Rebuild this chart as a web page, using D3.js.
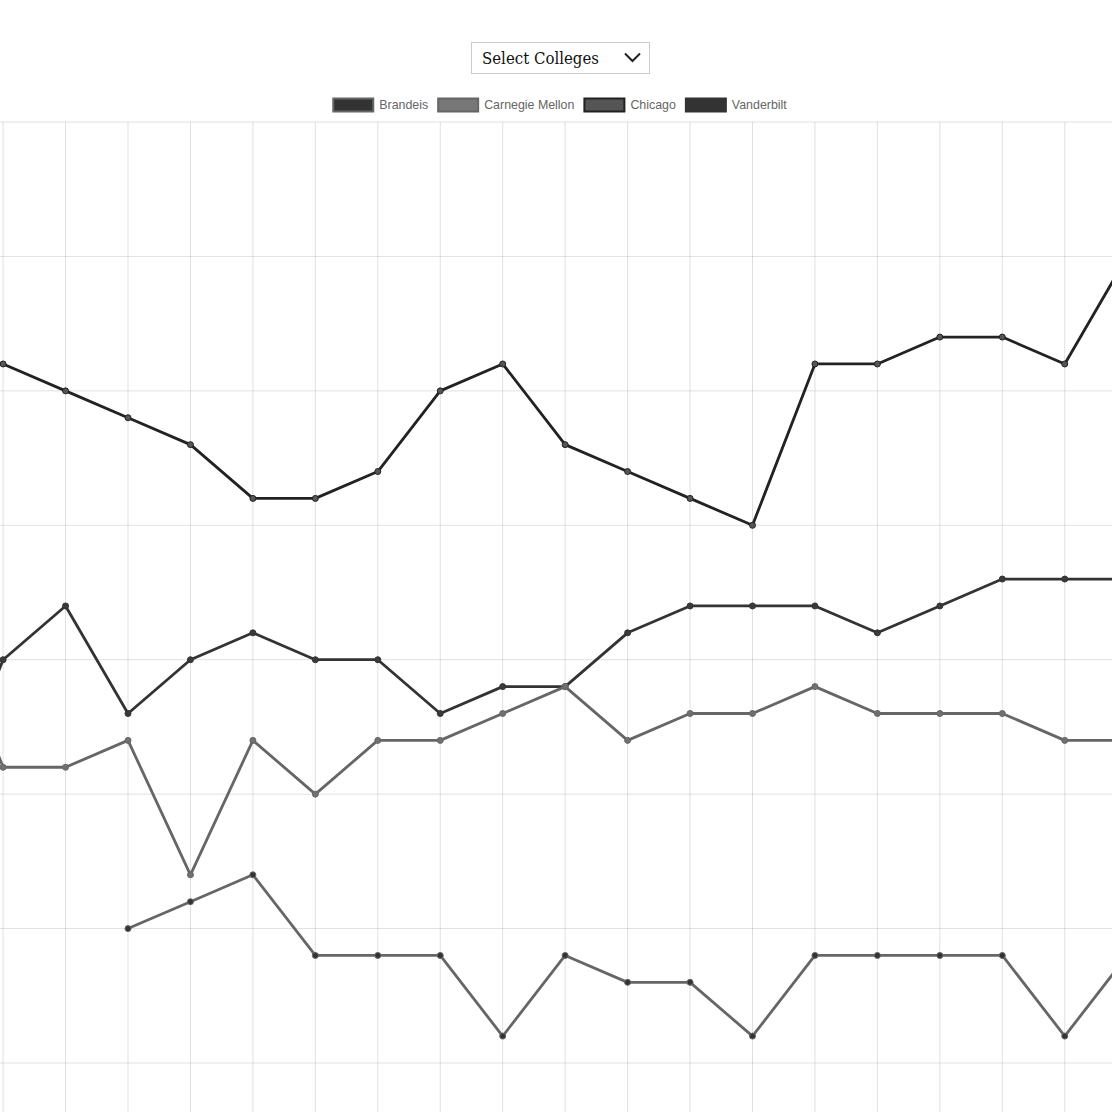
<!DOCTYPE html>
<html lang="en">
<head>
<meta charset="UTF-8">
<title>college rankings</title>
<style>
  body { margin: 0; background: #fff; }
  svg { display: block; }
</style>
</head>
<body>
<script src="https://d3js.org/d3.v7.min.js"></script>
<script>
// data: ranking by year (first and last year fall just outside the visible area)
var years = ["1999", "2000", "2001", "2002", "2003", "2004", "2005", "2006", "2007", "2008",
             "2009", "2010", "2011", "2012", "2013", "2014", "2015", "2016", "2017", "2018"];
var colleges = ["Brandeis", "Carnegie Mellon", "Chicago", "Vanderbilt"];
var brandeis = [null, null, null, 30, 29, 28, 31, 31, 31, 34, 31, 32, 32, 34, 31, 31, 31, 31, 34, 31];
var carnegieMellon = [18, 24, 24, 23, 28, 23, 25, 23, 23, 22, 21, 23, 22, 22, 21, 22, 22, 22, 23, 23];
var chicago = [9, 9, 10, 11, 12, 14, 14, 13, 10, 9, 12, 13, 14, 15, 9, 9, 8, 8, 9, 5];
var vanderbilt = [26, 20, 18, 22, 20, 19, 20, 20, 22, 21, 21, 19, 18, 18, 18, 19, 18, 17, 17, 17];
var rankTicks = [0, 5, 10, 15, 20, 25, 30, 35, 40];

var W = 1112, H = 1112;
var chartTop = 122;
var step = 62.45;
var x0 = 3.1;
var svg = d3.select("body").append("svg").attr("width", W).attr("height", H);

var styles = [
    { line: "#666666", fill: "#333333", point: "#333333" },
    { line: "#666666", fill: "#777777", point: "#707070" },
    { line: "#222222", fill: "#555555", point: "#555555" },
    { line: "#333333", fill: "#333333", point: "#3a3a3a" }
];
var series = [brandeis, carnegieMellon, chicago, vanderbilt];

// scales
var x = d3.scalePoint().domain(years).range([x0 - step, x0 + step * (years.length - 2)]);
var y = d3.scaleLinear().domain([0, 40]).range([chartTop, chartTop + 40 * 26.886]);

// grid
var gy = svg.append("g").attr("class", "grid-y")
    .call(d3.axisLeft(y).tickValues(rankTicks).tickSize(-W).tickFormat("").offset(0));
gy.select(".domain").remove();
gy.selectAll("line").attr("stroke", "rgba(0,0,0,0.12)");

var gx = svg.append("g").attr("class", "grid-x").attr("transform", "translate(0," + chartTop + ")")
    .call(d3.axisTop(x).tickSize(-(H - chartTop)).tickFormat("").offset(0));
gx.select(".domain").remove();
gx.selectAll("line").attr("stroke", "rgba(0,0,0,0.12)");

// lines, first dataset drawn last so it sits on top
var line = d3.line()
    .defined(function(d){ return d != null; })
    .x(function(d, i){ return x(years[i]); })
    .y(function(d){ return y(d); });

for (var k = series.length - 1; k >= 0; k--) {
    var g = svg.append("g").attr("class", "series");
    g.append("path")
        .attr("d", line(series[k]))
        .attr("fill", "none")
        .attr("stroke", styles[k].line)
        .attr("stroke-width", 2.8)
        .attr("stroke-linejoin", "round");
    g.selectAll("circle")
        .data(series[k].map(function(v, i){ return { v: v, i: i }; }).filter(function(d){ return d.v != null; }))
        .enter().append("circle")
        .attr("cx", function(d){ return x(years[d.i]); })
        .attr("cy", function(d){ return y(d.v); })
        .attr("r", 3)
        .attr("fill", styles[k].point)
        .attr("stroke", styles[k].line)
        .attr("stroke-width", 1);
}

// legend
var legend = svg.append("g").attr("class", "legend");
var items = legend.selectAll("g").data(colleges).enter().append("g");
items.append("rect")
    .attr("width", 40).attr("height", 13)
    .attr("fill", function(d, i){ return styles[i].fill; })
    .attr("stroke", function(d, i){ return styles[i].line; })
    .attr("stroke-width", 2);
items.append("text")
    .attr("x", 46).attr("y", 10.5)
    .attr("font-family", "Liberation Sans, Arial, sans-serif")
    .attr("font-size", 12.4)
    .attr("fill", "#666")
    .text(function(d){ return d; });
var widths = [];
items.each(function(){ widths.push(46 + d3.select(this).select("text").node().getComputedTextLength()); });
var total = d3.sum(widths) + 10 * (widths.length - 1);
var pos = 560 - total / 2;
items.attr("transform", function(d, i){
    var t = "translate(" + pos + ",98.5)";
    pos += widths[i] + 10;
    return t;
});

// dropdown
var dd = svg.append("g").attr("class", "dropdown");
dd.append("rect")
    .attr("x", 471.5).attr("y", 42.5).attr("width", 178).attr("height", 31)
    .attr("fill", "#fff").attr("stroke", "#cccccc").attr("stroke-width", 1);
dd.append("text")
    .attr("x", 482).attr("y", 64)
    .attr("font-family", "DejaVu Serif, serif")
    .attr("font-size", 16)
    .attr("fill", "#111")
    .attr("textLength", 117)
    .attr("lengthAdjust", "spacingAndGlyphs")
    .text("Select Colleges");
dd.append("path")
    .attr("d", "M625,53.5 L632.5,61 L640,53.5")
    .attr("fill", "none").attr("stroke", "#222").attr("stroke-width", 2);
</script>
</body>
</html>
